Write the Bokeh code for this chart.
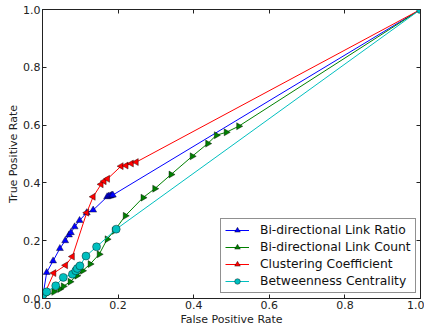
import numpy as np
from bokeh.plotting import figure
from bokeh.models import (Range1d, LinearAxis, Legend, LegendItem, PrintfTickFormatter,
                          FixedTicker, CustomJSTickFormatter)
from bokeh.embed import file_html
from bokeh.resources import INLINE

# Bi-directional Link Ratio
blr_x = [0.0, 0.011, 0.028, 0.046, 0.060, 0.070, 0.075, 0.085, 0.098, 0.117, 0.134, 0.171, 0.175, 0.179, 0.183, 0.186, 1.0]
blr_y = [0.0, 0.090, 0.130, 0.173, 0.200, 0.220, 0.228, 0.248, 0.270, 0.297, 0.306, 0.352, 0.354, 0.355, 0.357, 0.358, 1.0]
# Bi-directional Link Count
blc_x = [0.0, 0.030, 0.046, 0.055, 0.073, 0.091, 0.106, 0.126, 0.150, 0.171, 0.190, 0.219, 0.266, 0.297, 0.340, 0.396, 0.437, 0.460, 0.486, 0.519, 1.0]
blc_y = [0.0, 0.023, 0.033, 0.042, 0.058, 0.079, 0.096, 0.119, 0.153, 0.205, 0.234, 0.286, 0.349, 0.380, 0.429, 0.492, 0.536, 0.565, 0.575, 0.596, 1.0]
# Clustering Coefficient
cc_x = [0.0, 0.030, 0.061, 0.079, 0.117, 0.134, 0.155, 0.163, 0.172, 0.208, 0.221, 0.235, 0.248, 1.0]
cc_y = [0.0, 0.088, 0.115, 0.145, 0.297, 0.352, 0.395, 0.406, 0.414, 0.458, 0.460, 0.467, 0.472, 1.0]
# Betweenness Centrality
bc_x = [0.0, 0.011, 0.035, 0.055, 0.079, 0.088, 0.092, 0.099, 0.115, 0.143, 0.195, 1.0]
bc_y = [0.01, 0.023, 0.044, 0.073, 0.084, 0.096, 0.104, 0.113, 0.147, 0.179, 0.240, 1.0]

labels = ["Bi-directional Link Ratio", "Bi-directional Link Count",
          "Clustering Coefficient", "Betweenness Centrality"]
ticks = [0.0, 0.2, 0.4, 0.6, 0.8, 1.0]

FONT = "DejaVu Sans"
INK = "#222222"

p = figure(width=424, height=328, output_backend="svg", toolbar_location=None,
           x_range=Range1d(0, 1), y_range=Range1d(0, 1),
           min_border_left=42, min_border_right=4, min_border_top=9, min_border_bottom=28)
p.xgrid.visible = False
p.ygrid.visible = False
p.outline_line_color = INK
p.outline_line_width = 1
p.background_fill_color = "white"
p.border_fill_color = "white"

def style_axis(ax, show_labels=True):
    ax.ticker = FixedTicker(ticks=ticks)
    ax.major_tick_in = 4
    ax.major_tick_out = 0
    ax.minor_tick_in = 0
    ax.minor_tick_out = 0
    ax.axis_line_color = INK
    ax.major_tick_line_color = INK
    ax.major_label_text_font = FONT
    ax.major_label_text_color = INK
    ax.axis_label_text_font = FONT
    ax.axis_label_text_font_style = "normal"
    ax.axis_label_text_color = INK
    if show_labels:
        ax.formatter = PrintfTickFormatter(format="%.1f")
        ax.major_label_text_font_size = "11px"
        ax.axis_label_text_font_size = "11px"
        ax.major_label_standoff = 2
        ax.axis_label_standoff = 1
    else:
        ax.formatter = CustomJSTickFormatter(code="return ''")
        ax.major_label_text_font_size = "0px"
        ax.major_label_standoff = 0

style_axis(p.xaxis[0])
style_axis(p.yaxis[0])
p.yaxis[0].axis_label_standoff = 0
p.xaxis[0].axis_label = "False Positive Rate"
p.yaxis[0].axis_label = "True Positive Rate"

ra = LinearAxis()
style_axis(ra, False)
p.add_layout(ra, "right")
ta = LinearAxis()
style_axis(ta, False)
p.add_layout(ta, "above")

series = [
    (blr_x, blr_y, "#0000ff", "triangle", 0.0),
    (blc_x, blc_y, "#008000", "triangle", -np.pi / 2),
    (cc_x, cc_y, "#ff0000", "triangle", np.pi / 2),
    (bc_x, bc_y, "#00bfbf", "circle", 0.0),
]

items = []
for (xs, ys, col, mk, ang), lab in zip(series, labels):
    ln = p.line(xs, ys, line_color=col, line_width=1)
    sc = p.scatter(xs, ys, marker=mk, size=8 if mk == "circle" else 7, angle=ang,
                   fill_color=col, line_color="black", line_width=0.4)
    items.append(LegendItem(label=lab, renderers=[ln, sc]))

legend = Legend(items=items, location=(178, 5))
legend.label_text_font = FONT
legend.label_text_font_size = "12.3px"
legend.label_text_color = "#111111"
legend.glyph_width = 24
legend.glyph_height = 14
legend.spacing = 3
legend.padding = 4
legend.margin = 0
legend.label_standoff = 11
legend.label_height = 14
legend.border_line_color = INK
legend.border_line_width = 1
legend.background_fill_alpha = 1.0
p.add_layout(legend, "center")

open("out.html", "w").write(file_html(p, INLINE))
